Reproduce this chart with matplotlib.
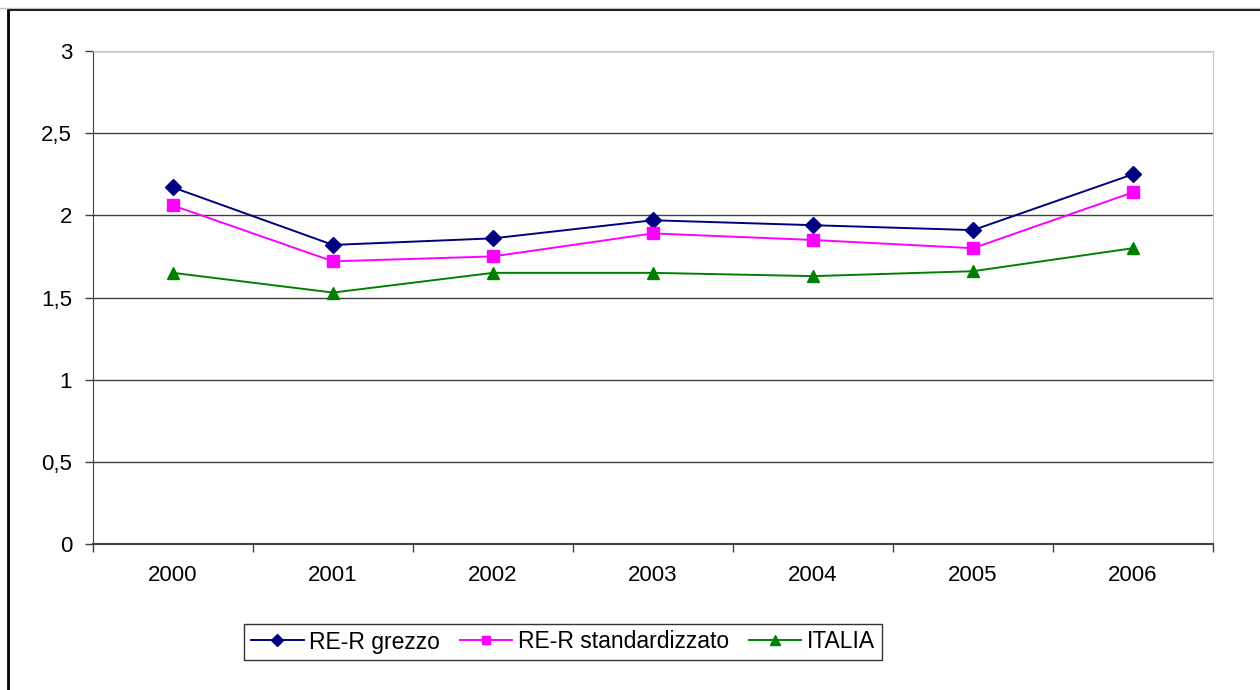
import matplotlib.pyplot as plt
from matplotlib.patches import Rectangle
from matplotlib.ticker import FuncFormatter, MultipleLocator
from matplotlib.lines import Line2D

plt.rcParams['font.family'] = ['Liberation Sans', 'DejaVu Sans']

# anni e valori delle tre serie
anni = ["2000", "2001", "2002", "2003", "2004", "2005", "2006"]
rer_grezzo = [2.17, 1.82, 1.86, 1.97, 1.94, 1.91, 2.25]
rer_standard = [2.06, 1.72, 1.75, 1.89, 1.85, 1.80, 2.14]
italia = [1.65, 1.53, 1.65, 1.65, 1.63, 1.66, 1.80]

W, H = 1260, 690
fig = plt.figure(figsize=(W / 100, H / 100), dpi=100)
ax = fig.add_axes([93 / W, 1 - 544 / H, 1120 / W, 493 / H])

x = list(range(len(anni)))
ax.plot(x, rer_grezzo, color="#000080", lw=1.4, marker="D", ms=8,
        label="RE-R grezzo", clip_on=False)
ax.plot(x, rer_standard, color="#ff00ff", lw=1.4, marker="s", ms=8,
        label="RE-R standardizzato", clip_on=False)
ax.plot(x, italia, color="#008000", lw=1.4, marker="^", ms=9,
        label="ITALIA", clip_on=False)

ax.set_xlim(-0.5, 6.5)
ax.set_ylim(0, 3)
ax.yaxis.set_major_locator(MultipleLocator(0.5))
ax.yaxis.set_major_formatter(
    FuncFormatter(lambda v, p: ("%g" % v).replace(".", ",")))
ax.grid(axis="y", color="#404040", lw=1)
ax.set_axisbelow(True)

# etichette al centro, tacche tra le categorie
ax.set_xticks(x)
ax.set_xticklabels(anni)
ax.tick_params(axis="x", length=0, pad=15, labelsize=16)
ax.set_xticks([i + 0.5 for i in range(-1, 7)], minor=True)
ax.tick_params(axis="x", which="minor", length=6, width=1, color="#404040")
ax.tick_params(axis="y", length=6, width=1, color="#404040", pad=9,
               labelsize=16)

for s in ["top", "right"]:
    ax.spines[s].set_color("#c8c8c8")
ax.spines["left"].set_color("#404040")
ax.spines["bottom"].set_color("#404040")
ax.spines["bottom"].set_linewidth(1.5)

leg = fig.legend(loc="center", bbox_to_anchor=(563 / W, 1 - 642 / H),
                 ncol=3, frameon=True, fancybox=False, fontsize=16.5,
                 handlelength=2.3, columnspacing=0.85, handletextpad=0.25,
                 borderpad=0.3, borderaxespad=0, markerscale=0.75)
leg.get_frame().set_edgecolor("black")
leg.get_frame().set_linewidth(1)

# cornice esterna
fig.patches.append(Rectangle((8 / W, -0.1), 1.2, 1 - 9 / H + 0.1,
                             transform=fig.transFigure, fill=False,
                             edgecolor="black", lw=2))
fig.add_artist(Line2D([0, 1], [1 - 7.5 / H, 1 - 7.5 / H], color="#c0c0c0",
                      lw=1, transform=fig.transFigure))

fig.savefig("out.png", dpi=100)
